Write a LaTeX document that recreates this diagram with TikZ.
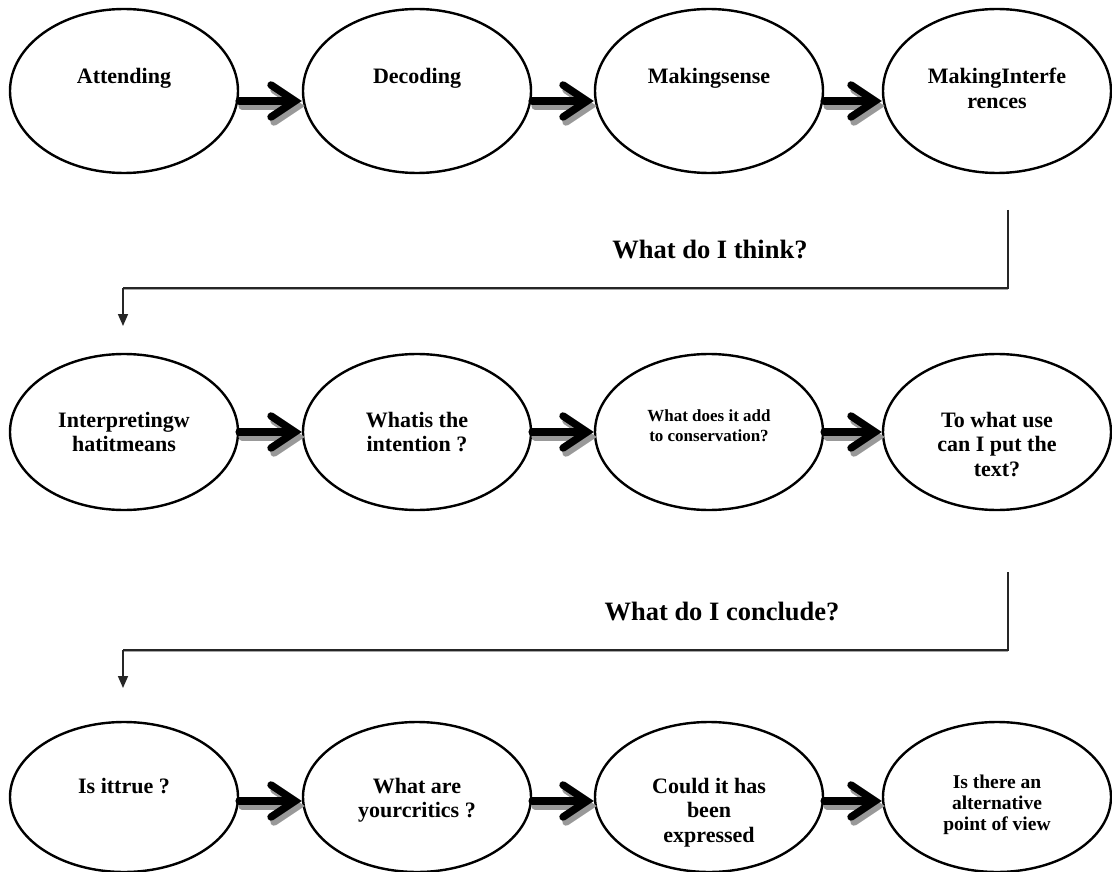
\documentclass[tikz,border=0pt]{standalone}
\usepackage{fontspec}
\setmainfont{Liberation Serif}
\usetikzlibrary{arrows.meta,shapes.geometric}

% thick chevron arrow with a grey drop shadow between two stages;
% #3 = how far below the stage centres the arrow runs
\newcommand\flowarrow[3]{%
  \draw[flowshade] ([shift={(3,#3+5)}]#1.east) -- ([shift={(3,#3+5)}]#2.west);
  \draw[flow] ([shift={(0,#3)}]#1.east) -- ([shift={(0,#3)}]#2.west);
}

\begin{document}
\begin{tikzpicture}[x=1pt,y=-1pt,
  stage/.style={ellipse, draw=black, line width=2.4pt, minimum width=228pt,
    minimum height=160pt, inner sep=0pt},
  lbl/.style={font=\fontsize{22}{24.5}\selectfont\bfseries, align=center,
    anchor=north, inner sep=0pt},
  small/.style={font=\fontsize{17}{20}\selectfont\bfseries},
  medium/.style={font=\fontsize{19.5}{21}\selectfont\bfseries},
  heading/.style={font=\fontsize{26.5}{30}\selectfont\bfseries, inner sep=0pt},
  flow/.style={line width=7.5pt, line cap=round,
    -{Straight Barb[length=24pt,width=32pt,line cap=round]}},
  flowshade/.style={flow, draw=black!40},
  link/.style={line width=1.6pt, draw=black!85},
  drop/.style={link, -{Triangle[length=12pt,width=10pt]}}
]
\useasboundingbox (0,0) rectangle (1112,872);

% ---- first row: reading the text
\node[stage, minimum height=164pt] (a1) at (124,91) {};
\node[stage, minimum height=164pt] (a2) at (417,91) {};
\node[stage, minimum height=164pt] (a3) at (709,91) {};
\node[stage, minimum height=164pt] (a4) at (997,91) {};
\node[lbl] (ta1) at ([yshift=23pt]a1.center) {Attending};
\node[lbl] (ta2) at ([yshift=23pt]a2.center) {Decoding};
\node[lbl] (ta3) at ([yshift=23pt]a3.center) {Makingsense};
\node[lbl] (ta4) at ([yshift=23pt]a4.center) {MakingInterfe\\rences};
\flowarrow{a1}{a2}{10}
\flowarrow{a2}{a3}{10}
\flowarrow{a3}{a4}{10}

% ---- link to the second row
\coordinate (p1) at (1008,210);
\coordinate (q1) at (1008,288);
\coordinate (r1) at (123,288);
\coordinate (s1) at (123,326);
\draw[link, draw=black!35] ([yshift=-1.5pt]q1) -- ([yshift=-1.5pt]r1);
\draw[link] (p1) -- (q1) -- (r1);
\draw[drop] (r1) -- (s1);
\node[heading] (h1) at (710,250) {What do I think?};

% ---- second row: thinking about the text
\node[stage, minimum height=156pt] (b1) at (124,432) {};
\node[stage, minimum height=156pt] (b2) at (417,432) {};
\node[stage, minimum height=156pt] (b3) at (709,432) {};
\node[stage, minimum height=156pt] (b4) at (997,432) {};
\node[lbl] (tb1) at ([yshift=20pt]b1.center) {Interpretingw\\hatitmeans};
\node[lbl] (tb2) at ([yshift=20pt]b2.center) {Whatis the\\intention ?};
\node[lbl, small] (tb3) at ([yshift=22pt]b3.center) {What does it add\\to conservation?};
\node[lbl] (tb4) at ([yshift=20pt]b4.center) {To what use\\can I put the\\text?};
\flowarrow{b1}{b2}{0}
\flowarrow{b2}{b3}{0}
\flowarrow{b3}{b4}{0}

% ---- link to the third row
\coordinate (p2) at (1008,572);
\coordinate (q2) at (1008,650);
\coordinate (r2) at (123,650);
\coordinate (s2) at (123,688);
\draw[link, draw=black!35] ([yshift=-1.5pt]q2) -- ([yshift=-1.5pt]r2);
\draw[link] (p2) -- (q2) -- (r2);
\draw[drop] (r2) -- (s2);
\node[heading] (h2) at (722,612) {What do I conclude?};

% ---- third row: concluding
\node[stage, minimum height=150pt] (c1) at (124,797) {};
\node[stage, minimum height=150pt] (c2) at (417,797) {};
\node[stage, minimum height=150pt] (c3) at (709,797) {};
\node[stage, minimum height=150pt] (c4) at (997,797) {};
\node[lbl] (tc1) at ([yshift=19pt]c1.center) {Is ittrue ?};
\node[lbl] (tc2) at ([yshift=19pt]c2.center) {What are\\yourcritics ?};
\node[lbl] (tc3) at ([yshift=19pt]c3.center) {Could it has\\been\\expressed};
\node[lbl, medium] (tc4) at ([yshift=22pt]c4.center) {Is there an\\alternative\\point of view};
\flowarrow{c1}{c2}{4}
\flowarrow{c2}{c3}{4}
\flowarrow{c3}{c4}{4}
\end{tikzpicture}
\end{document}
